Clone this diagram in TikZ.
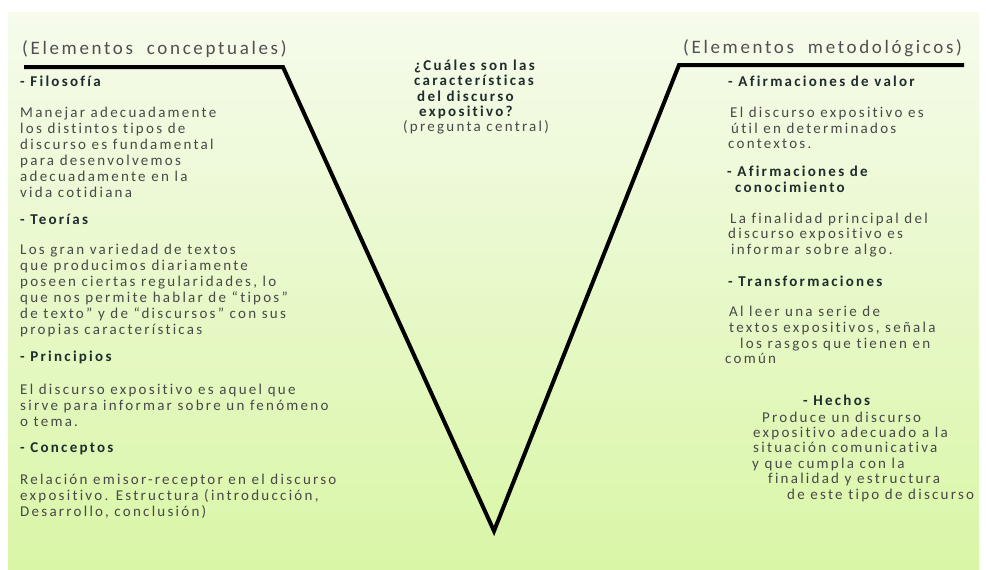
\documentclass[tikz,border=0pt]{standalone}
\usepackage{fontspec}
\newfontfamily\bodyfont[LetterSpace=15,Ligatures=NoCommon]{Carlito}
\newfontfamily\titlefont[LetterSpace=14,Ligatures=NoCommon]{Carlito}
\definecolor{bgtop}{RGB}{246,251,236}
\definecolor{bgbot}{RGB}{217,246,166}
\definecolor{bodygray}{RGB}{72,72,72}
\definecolor{headcol}{RGB}{30,44,44}
\definecolor{titlegray}{RGB}{80,80,80}
\tikzset{
  body/.style={anchor=base west, inner sep=0pt, text=bodygray, font=\bodyfont\fontsize{15}{18}\selectfont},
  head/.style={anchor=base west, inner sep=0pt, text=headcol, font=\bodyfont\bfseries\fontsize{15}{18}\selectfont},
  ttl/.style={anchor=base west, inner sep=0pt, text=titlegray, font=\titlefont\fontsize{19}{22}\selectfont},
  vline/.style={line width=4pt, line join=miter, black},
}
\begin{document}
\begin{tikzpicture}[x=1pt,y=-1pt]
\useasboundingbox (0,0) rectangle (986,570);
\fill[white] (0,0) rectangle (986,570);
\shade[top color=bgtop, bottom color=bgbot] (8,12) rectangle (979,570);

% V shape
\coordinate (L0) at (24,67);
\coordinate (L1) at (283,67);
\coordinate (B) at (494,531);
\coordinate (R1) at (679,65);
\coordinate (R0) at (964,65);
\draw[vline] (L0) -- (L1) -- (B) -- (R1) -- (R0);

% titles
\node[ttl] (tl) at (22,54) {(Elementos\ \ conceptuales)};
\node[ttl] (tr) at (683,53) {(Elementos\ \ metodológicos)};

% left column
\node[head] (h1) at (20,86) {- Filosofía};
\node[body] (f1) at (20,117) {Manejar adecuadamente};
\node[body] (f2) at (20,133) {los distintos tipos de};
\node[body] (f3) at (20,149) {discurso es fundamental};
\node[body] (f4) at (20,165) {para desenvolvemos};
\node[body] (f5) at (20,181) {adecuadamente en la};
\node[body] (f6) at (20,197) {vida cotidiana};

\node[head] (h2) at (20,224) {- Teorías};
\node[body] (t1) at (20,254) {Los gran variedad de textos};
\node[body] (t2) at (20,270) {que producimos diariamente};
\node[body] (t3) at (20,286) {poseen ciertas regularidades, lo};
\node[body] (t4) at (20,302) {que nos permite hablar de “tipos”};
\node[body] (t5) at (20,318) {de texto” y de “discursos” con sus};
\node[body] (t6) at (20,334) {propias características};

\node[head] (h3) at (20,361) {- Principios};
\node[body] (p1) at (20,394) {El discurso expositivo es aquel que};
\node[body] (p2) at (20,410) {sirve para informar sobre un fenómeno};
\node[body] (p3) at (20,426) {o tema.};

\node[head] (h4) at (20,452) {- Conceptos};
\node[body] (c1) at (20,484) {Relación emisor-receptor en el discurso};
\node[body] (c2) at (20,500) {expositivo. Estructura (introducción,};
\node[body] (c3) at (20,516) {Desarrollo, conclusión)};

% center question
\node[head] (q1) at (414,70) {¿Cuáles son las};
\node[head] (q2) at (414,85) {características};
\node[head] (q3) at (417,101) {del discurso};
\node[head] (q4) at (419,116) {expositivo?};
\node[body] (q5) at (403,131) {(pregunta central)};

% right column
\node[head] (r1) at (728,86) {- Afirmaciones de valor};
\node[body] (v1) at (730,117) {El discurso expositivo es};
\node[body] (v2) at (731,133) {útil en determinados};
\node[body] (v3) at (728,148) {contextos.};

\node[head] (r2a) at (727,176) {- Afirmaciones de};
\node[head] (r2b) at (735,192) {conocimiento};
\node[body] (k1) at (730,223) {La finalidad principal del};
\node[body] (k2) at (728,238) {discurso expositivo es};
\node[body] (k3) at (731,254) {informar sobre algo.};

\node[head] (r3) at (728,286) {- Transformaciones};
\node[body] (s1) at (729,316) {Al leer una serie de};
\node[body] (s2) at (729,332) {textos expositivos, señala};
\node[body] (s3) at (740,348) {los rasgos que tienen en};
\node[body] (s4) at (725,363) {común};

\node[head] (r4) at (803,405) {- Hechos};
\node[body] (e1) at (762,422) {Produce un discurso};
\node[body] (e2) at (753,437) {expositivo adecuado a la};
\node[body] (e3) at (753,452) {situación comunicativa};
\node[body] (e4) at (752,468) {y que cumpla con la};
\node[body] (e5) at (768,483) {finalidad y estructura};
\node[body] (e6) at (787,499) {de este tipo de discurso};
\end{tikzpicture}
\end{document}
